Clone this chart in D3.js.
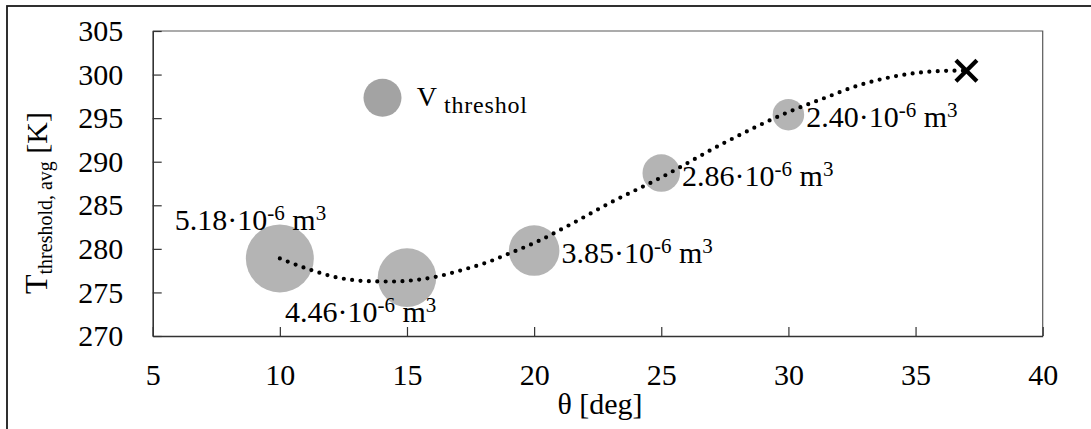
<!DOCTYPE html>
<html>
<head>
<meta charset="utf-8">
<script src="https://cdn.jsdelivr.net/npm/d3@7"></script>
<style>
  html, body { margin: 0; padding: 0; background: #fff; }
  svg { display: block; font-family: "Liberation Serif", "Times New Roman", serif; }
</style>
</head>
<body>
<svg id="chart" width="1091" height="429"></svg>
<script>
// ---- data ----
const xTicks = [5, 10, 15, 20, 25, 30, 35, 40];
const yTicks = [270, 275, 280, 285, 290, 295, 300, 305];
const thetas = [10, 15, 20, 25, 30];
const temps = [278.9, 276.7, 279.8, 288.7, 295.4];
const volumes = [5.18, 4.46, 3.85, 2.86, 2.40];
const volumeLabels = ["5.18", "4.46", "3.85", "2.86", "2.40"];
const markerTheta = [37];
const markerTemp = [300.45];
const trendTheta = [10, 11.2, 12.2, 13.4, 14.4, 15.4, 16.3, 17.2, 18.2, 19.0, 20.1, 21.3, 23, 25, 27.5, 30, 31.5, 32.8, 34.1, 35.4, 36.4, 37];
const trendTemp = [278.9, 277.6, 276.75, 276.3, 276.25, 276.45, 276.9, 277.6, 278.5, 279.45, 280.8, 282.6, 285.3, 288.2, 292.2, 295.7, 297.4, 298.8, 299.75, 300.3, 300.44, 300.45];
const legendLabel = "V";
const legendSub = "threshol";
const xTitle = "θ [deg]";

// ---- layout ----
const SERIF = "'Liberation Serif','Times New Roman',serif";
const svg = d3.select("#chart");
const L = 152.7, R = 1042.7, T = 31, B = 336;
const FONT = 30, SUP = 21;

const x = d3.scaleLinear().domain([5, 40]).range([L, R]);
const y = d3.scaleLinear().domain([270, 305]).range([B, T]);
const r = d3.scaleLinear().domain([0, 5.18]).range([0, 34]);

// outer frame
svg.append("rect").attr("x", 7).attr("y", 6).attr("width", 1120).attr("height", 460)
  .attr("fill", "none").attr("stroke", "#1a1a1a").attr("stroke-width", 1.8);

// plot border (top & right)
svg.append("path")
  .attr("d", `M${L},${T}H${R}V${B}`)
  .attr("fill", "none").attr("stroke", "#595959").attr("stroke-width", 1.2);

// axes
const yAxis = d3.axisLeft(y).tickValues(yTicks).tickSizeInner(-9).tickSizeOuter(0).tickPadding(29.4);
const xAxis = d3.axisBottom(x).tickValues(xTicks).tickSizeInner(-9).tickSizeOuter(0).tickPadding(27.7);

const gy = svg.append("g").attr("transform", `translate(${L},0)`).call(yAxis);
const gx = svg.append("g").attr("transform", `translate(0,${B})`).call(xAxis);
[gx, gy].forEach(g => {
  g.attr("font-family", SERIF);
  g.select(".domain").attr("stroke", "#333").attr("stroke-width", 1.6);
  g.selectAll(".tick line").attr("stroke", "#333").attr("stroke-width", 1.2);
  g.selectAll(".tick text").attr("font-size", FONT).attr("fill", "#000").attr("font-family", SERIF);
});

// bubbles
const pts = thetas.map((t, i) => ({ t, v: temps[i], vol: volumes[i], lab: volumeLabels[i], i }));
svg.append("g").selectAll("circle").data(pts).join("circle")
  .attr("cx", d => x(d.t)).attr("cy", d => y(d.v)).attr("r", d => r(d.vol))
  .attr("fill", "#b4b4b4");

// trend line (dotted)
const trend = trendTheta.map((t, i) => [t, trendTemp[i]]);
svg.append("path")
  .attr("d", d3.line().x(d => x(d[0])).y(d => y(d[1])).curve(d3.curveMonotoneX)(trend))
  .attr("fill", "none").attr("stroke", "#000").attr("stroke-width", 4.2)
  .attr("stroke-linecap", "round").attr("stroke-dasharray", "0 8.4");

// data labels
function labelPos(d) {
  const cx = x(d.t), cy = y(d.v), rr = r(d.vol);
  if (d.i === 0) return [cx - 105, cy - 28];
  if (d.i === 1) return [cx - 122, cy + 44];
  return [cx + rr + 2, cy + 12.5];
}
const labs = svg.append("g").selectAll("text").data(pts).join("text")
  .attr("x", d => labelPos(d)[0]).attr("y", d => labelPos(d)[1])
  .attr("font-size", FONT).attr("fill", "#000");
labs.each(function(d) {
  const t = d3.select(this);
  t.append("tspan").text(d.lab + "·10");
  t.append("tspan").attr("font-size", SUP).attr("dy", -10).text("-6");
  t.append("tspan").attr("font-size", FONT).attr("dy", 10).text(" m");
  t.append("tspan").attr("font-size", SUP).attr("dy", -10).text("3");
});

// X marker
svg.append("g").selectAll("path").data(markerTheta.map((t, i) => [t, markerTemp[i]])).join("path")
  .attr("transform", d => `translate(${x(d[0])},${y(d[1])})`)
  .attr("d", "M-10.5,-10.5L10.5,10.5M-10.5,10.5L10.5,-10.5")
  .attr("stroke", "#000").attr("stroke-width", 4.2).attr("fill", "none");

// legend
svg.append("circle").attr("cx", 382.5).attr("cy", 97.8).attr("r", 19).attr("fill", "#a3a3a3");
svg.append("text").attr("x", 416.7).attr("y", 106).attr("font-size", 28).attr("fill", "#000").text(legendLabel);
svg.append("text").attr("x", 444).attr("y", 113.3).attr("font-size", 24).attr("fill", "#000")
  .attr("textLength", 83).attr("lengthAdjust", "spacing").text(legendSub);

// axis titles
svg.append("text").attr("x", 600).attr("y", 414).attr("text-anchor", "middle")
  .attr("font-size", FONT).attr("fill", "#000").text(xTitle);

const yt = svg.append("text").attr("transform", "translate(47,203) rotate(-90)")
  .attr("text-anchor", "middle").attr("font-size", FONT).attr("fill", "#000");
yt.append("tspan").attr("font-size", 32).text("T");
yt.append("tspan").attr("font-size", 20).attr("dy", 5).text("threshold, avg");
yt.append("tspan").attr("font-size", FONT).attr("dy", -5).text(" [K]");
</script>
</body>
</html>
